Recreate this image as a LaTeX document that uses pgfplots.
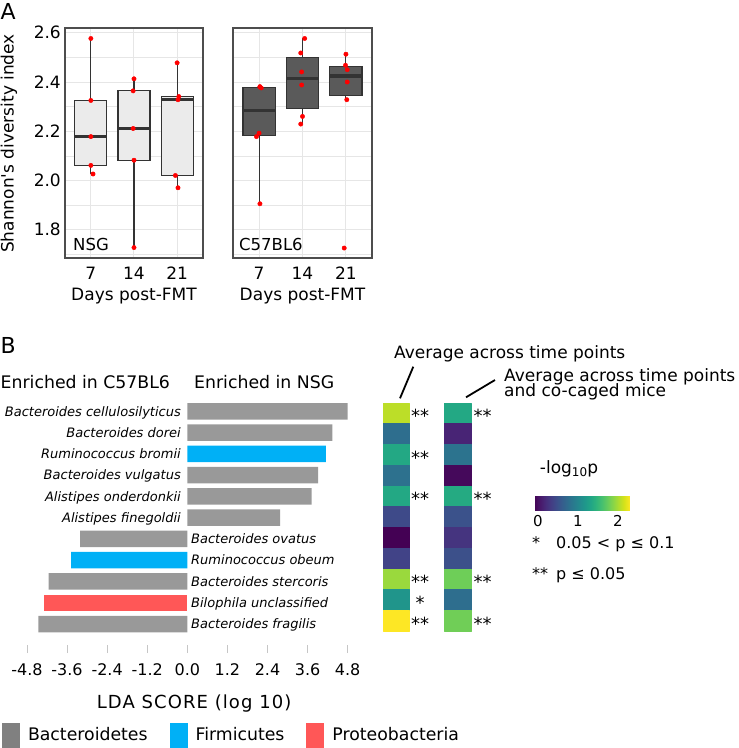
\documentclass[border=0pt]{standalone}
\usepackage{fontspec}
\setmainfont{DejaVu Sans}
\newfontfamily\ldafont{DejaVu Sans}[LetterSpace=6]
\usepackage{pgfplots}
\pgfplotsset{compat=1.18}
\usepgfplotslibrary{statistics,patchplots}
\usetikzlibrary{calc}
\newcommand\fs[1]{\fontsize{#1}{#1}\selectfont}
\definecolor{boxlight}{HTML}{EBEBEB}
\definecolor{boxdark}{HTML}{5A5A5A}
\definecolor{boxline}{HTML}{333333}
\definecolor{frame}{HTML}{4D4D4D}
\definecolor{gridc}{HTML}{E6E6E6}
\definecolor{cBac}{HTML}{999999}
\definecolor{cBacL}{HTML}{808080}
\definecolor{cFir}{HTML}{00B0F6}
\definecolor{cPro}{HTML}{FF5757}
\definecolor{dot}{HTML}{FF0000}
\pgfplotsset{
  panelA/.style={
    scale only axis, height=230pt,
    xmin=0.4, xmax=3.6, ymin=1.6845, ymax=2.6195,
    xtick={1,2,3}, xticklabels={7,14,21},
    ytick={1.8,2.0,2.2,2.4,2.6},
    minor ytick={1.7,1.9,2.1,2.3,2.5},
    xmajorgrids, ymajorgrids, yminorgrids,
    major grid style={gridc, line width=1pt},
    minor grid style={gridc, line width=0.5pt},
    major tick length=0pt, minor tick length=0pt,
    axis line style={frame, line width=1.4pt},
    tick label style={font=\fs{17}},
    xticklabel style={anchor=center, yshift=-15.3pt},
    yticklabel style={anchor=east, inner sep=0pt, xshift=-4pt},
    xlabel={Days post-FMT},
    xlabel style={font=\fs{17}, at={(axis description cs:0.5,-0.1826)}, anchor=base},
    boxplot/draw direction=y,
    boxplot/box extend=0.74,
    boxplot/whisker extend=0,
    boxplot/every median/.style={line width=3.5pt},
    boxplot/every whisker/.style={line width=1.1pt},
  },
  dots/.style={only marks, mark=*, mark size=2.2pt, color=dot, mark options={draw=none, fill=dot}},
}
\begin{document}
\begin{tikzpicture}
% ---------------- Panel A, NSG ----------------
\begin{axis}[panelA, at={(65pt,-258pt)}, anchor=south west, width=138pt,
  yticklabels={1.8,2.0,2.2,2.4,2.6},
  ylabel={Shannon\textquotesingle s diversity index},
  ylabel style={font=\fs{17}, at={(axis description cs:-0.406,0.498)}, anchor=center}]
\addplot[boxplot prepared={draw position=1, lower whisker=2.026, lower quartile=2.061, median=2.178, upper quartile=2.325, upper whisker=2.577}, draw=boxline, fill=boxlight, line width=1.1pt] coordinates {};
\addplot[boxplot prepared={draw position=2, lower whisker=1.727, lower quartile=2.082, median=2.211, upper quartile=2.364, upper whisker=2.413}, draw=boxline, fill=boxlight, line width=1.1pt] coordinates {};
\addplot[boxplot prepared={draw position=3, lower whisker=1.970, lower quartile=2.020, median=2.328, upper quartile=2.341, upper whisker=2.478}, draw=boxline, fill=boxlight, line width=1.1pt] coordinates {};
\addplot[dots] coordinates {
(1.00,2.577) (1.00,2.325) (1.00,2.178) (1.00,2.061) (1.05,2.026)
(2.00,2.413) (1.98,2.364) (1.98,2.211) (2.00,2.082) (2.00,1.727)
(3.00,2.478) (3.04,2.341) (3.02,2.328) (2.96,2.020) (3.02,1.970)};
\end{axis}
% ---------------- Panel A, C57BL6 ----------------
\begin{axis}[panelA, at={(233pt,-258pt)}, anchor=south west, width=139pt,
  yticklabels=\empty]
\addplot[boxplot prepared={draw position=1, lower whisker=1.905, lower quartile=2.181, median=2.284, upper quartile=2.377, upper whisker=2.381}, draw=boxline, fill=boxdark, line width=1.1pt] coordinates {};
\addplot[boxplot prepared={draw position=2, lower whisker=2.229, lower quartile=2.292, median=2.414, upper quartile=2.499, upper whisker=2.577}, draw=boxline, fill=boxdark, line width=1.1pt] coordinates {};
\addplot[boxplot prepared={draw position=3, lower whisker=2.328, lower quartile=2.346, median=2.425, upper quartile=2.464, upper whisker=2.513}, draw=boxline, fill=boxdark, line width=1.1pt] coordinates {};
\addplot[dots] coordinates {
(1.02,2.381) (1.05,2.376) (1.02,2.380) (1.00,2.192) (0.94,2.178) (1.02,1.905)
(2.05,2.577) (1.96,2.518) (1.98,2.441) (1.98,2.388) (2.00,2.260) (1.96,2.229)
(3.00,2.513) (2.99,2.468) (3.03,2.450) (3.03,2.400) (3.02,2.328) (2.96,1.725)};
\end{axis}
\node[font=\fs{22}, anchor=base west, inner sep=0pt] at (0.5pt,-19pt) {A};
\node[font=\fs{16.5}, anchor=base west, inner sep=0pt] at (73pt,-250pt) {NSG};
\node[font=\fs{16.5}, anchor=base west, inner sep=0pt] at (239pt,-250pt) {C57BL6};
% ---------------- Panel B, LDA bars ----------------
\node[font=\fs{22}, anchor=base west, inner sep=0pt] at (0.5pt,-353pt) {B};
\node[font=\fs{17.3}, anchor=base west, inner sep=0pt] at (0.5pt,-388.3pt) {Enriched in C57BL6};
\node[font=\fs{17.3}, anchor=base west, inner sep=0pt] at (194pt,-388.3pt) {Enriched in NSG};
\begin{axis}[
  at={(3.6pt,-653pt)}, anchor=south west,
  scale only axis, width=357.4pt, height=252.3pt,
  xmin=-5.5, xmax=5.2, ymin=-0.363, ymax=11.5,
  axis line style={draw=none},
  ytick=\empty,
  xtick={-4.8,-3.6,-2.4,-1.2,0,1.2,2.4,3.6,4.8},
  xticklabels={-4.8,-3.6,-2.4,-1.2,0.0,1.2,2.4,3.6,4.8},
  xtick pos=left, tick align=inside, major tick length=8pt,
  xtick style={draw=gray!45, line width=0.8pt},
  xticklabel style={font=\fs{16}, anchor=center, yshift=-16.2pt},
  xlabel={\ldafont LDA SCORE (log 10)},
  xlabel style={font=\fs{18}, at={(axis description cs:0.533,-0.219)}, anchor=base},
  clip=false,
  legend style={draw=none, fill=none, at={(axis description cs:-0.005,-0.2768)}, anchor=north west,
    legend columns=3, font=\fs{17.3}, inner sep=0pt,
    /tikz/every odd column/.append style={column sep=6pt},
    /tikz/every even column/.append style={column sep=20pt}},
  legend cell align=left,
]
\addplot[xbar, bar shift=0pt, bar width=16.5pt, fill=cBac, draw=none,
  legend image code/.code={\fill[cBacL] (0pt,-13pt) rectangle (18pt,12pt);}]
  coordinates {(4.80,11) (4.34,10) (3.92,8) (3.72,7) (2.78,6) (-3.21,5) (-4.15,3) (-4.46,1)};
\addlegendentry{Bacteroidetes}
\addplot[xbar, bar shift=0pt, bar width=16.5pt, fill=cFir, draw=none,
  legend image code/.code={\fill[cFir] (0pt,-13pt) rectangle (18pt,12pt);}]
  coordinates {(4.15,9) (-3.48,4)};
\addlegendentry{Firmicutes}
\addplot[xbar, bar shift=0pt, bar width=16.5pt, fill=cPro, draw=none,
  legend image code/.code={\fill[cPro] (0pt,-13pt) rectangle (18pt,12pt);}]
  coordinates {(-4.29,2)};
\addlegendentry{Proteobacteria}
\begin{scope}[every node/.style={font=\fs{13}\itshape, inner sep=0pt}]
\node[anchor=base east, xshift=-6.3pt, yshift=-4.7pt] at (axis cs:0,11) {Bacteroides cellulosilyticus};
\node[anchor=base east, xshift=-6.3pt, yshift=-4.7pt] at (axis cs:0,10) {Bacteroides dorei};
\node[anchor=base east, xshift=-6.3pt, yshift=-4.7pt] at (axis cs:0,9) {Ruminococcus bromii};
\node[anchor=base east, xshift=-6.3pt, yshift=-4.7pt] at (axis cs:0,8) {Bacteroides vulgatus};
\node[anchor=base east, xshift=-6.3pt, yshift=-4.7pt] at (axis cs:0,7) {Alistipes onderdonkii};
\node[anchor=base east, xshift=-6.3pt, yshift=-4.7pt] at (axis cs:0,6) {Alistipes finegoldii};
\node[anchor=base west, xshift=3.7pt, yshift=-4.7pt] at (axis cs:0,5) {Bacteroides ovatus};
\node[anchor=base west, xshift=3.7pt, yshift=-4.7pt] at (axis cs:0,4) {Ruminococcus obeum};
\node[anchor=base west, xshift=3.7pt, yshift=-4.7pt] at (axis cs:0,3) {Bacteroides stercoris};
\node[anchor=base west, xshift=3.7pt, yshift=-4.7pt] at (axis cs:0,2) {Bilophila unclassified};
\node[anchor=base west, xshift=3.7pt, yshift=-4.7pt] at (axis cs:0,1) {Bacteroides fragilis};
\end{scope}
\end{axis}
% ---------------- Panel B, heatmap ----------------
\begin{axis}[
  at={(383pt,-631pt)}, anchor=south west, scale only axis,
  width=87.9pt, height=228.3pt, xmin=0, xmax=3.38, ymin=0, ymax=11,
  axis line style={draw=none}, xtick=\empty, ytick=\empty, clip=false,
  colormap/viridis, point meta min=-0.1, point meta max=2.3,
  colorbar horizontal,
  colorbar style={at={($(parent axis.south west)+(151pt,129.3pt)$)}, anchor=south west,
    scale only axis, width=96pt, height=20pt,
    xtick={0,1,2}, xticklabels={0,1,2}, xticklabel pos=left,
    major tick length=0pt, axis line style={draw=none}, ytick=\empty,
    xticklabel style={font=\fs{15}, anchor=center, yshift=-10.3pt}},
]
\addplot[patch, patch type=rectangle, shader=flat, point meta=explicit]
table[meta=c] {
x y c
0 10 2.06
1 10 2.06
1 11 2.06
0 11 2.06
0 9 0.76
1 9 0.76
1 10 0.76
0 10 0.76
0 8 1.34
1 8 1.34
1 9 1.34
0 9 1.34
0 7 0.79
1 7 0.79
1 8 0.79
0 8 0.79
0 6 1.34
1 6 1.34
1 7 1.34
0 7 1.34
0 5 0.43
1 5 0.43
1 6 0.43
0 6 0.43
0 4 -0.1
1 4 -0.1
1 5 -0.1
0 5 -0.1
0 3 0.38
1 3 0.38
1 4 0.38
0 4 0.38
0 2 1.94
1 2 1.94
1 3 1.94
0 3 1.94
0 1 1.15
1 1 1.15
1 2 1.15
0 2 1.15
0 0 2.3
1 0 2.3
1 1 2.3
0 1 2.3
2.35 10 1.34
3.38 10 1.34
3.38 11 1.34
2.35 11 1.34
2.35 9 0.14
3.38 9 0.14
3.38 10 0.14
2.35 10 0.14
2.35 8 0.81
3.38 8 0.81
3.38 9 0.81
2.35 9 0.81
2.35 7 -0.05
3.38 7 -0.05
3.38 8 -0.05
2.35 8 -0.05
2.35 6 1.36
3.38 6 1.36
3.38 7 1.36
2.35 7 1.36
2.35 5 0.50
3.38 5 0.50
3.38 6 0.50
2.35 6 0.50
2.35 4 0.26
3.38 4 0.26
3.38 5 0.26
2.35 5 0.26
2.35 3 0.48
3.38 3 0.48
3.38 4 0.48
2.35 4 0.48
2.35 2 1.77
3.38 2 1.77
3.38 3 1.77
2.35 3 1.77
2.35 1 0.76
3.38 1 0.76
3.38 2 0.76
2.35 2 0.76
2.35 0 1.78
3.38 0 1.78
3.38 1 1.78
2.35 1 1.78
};
\begin{scope}[every node/.style={font=\fs{18}, inner sep=0pt, anchor=base, yshift=-9.8pt}]
\node at (axis cs:1.423,10.5) {**};
\node at (axis cs:1.423,8.5) {**};
\node at (axis cs:1.423,6.5) {**};
\node at (axis cs:1.423,2.5) {**};
\node at (axis cs:1.423,1.5) {*};
\node at (axis cs:1.423,0.5) {**};
\node at (axis cs:3.827,10.5) {**};
\node at (axis cs:3.827,6.5) {**};
\node at (axis cs:3.827,2.5) {**};
\node at (axis cs:3.827,0.5) {**};
\end{scope}
\end{axis}
\draw[line width=1.8pt] (413.3pt,-366.7pt) -- (400pt,-398.3pt);
\draw[line width=1.8pt] (495pt,-380pt) -- (466pt,-397.3pt);
\node[font=\fs{17}, anchor=base west, inner sep=0pt] at (394pt,-358.3pt) {Average across time points};
\node[font=\fs{17}, anchor=base west, inner sep=0pt] at (504pt,-381pt) {Average across time points};
\node[font=\fs{17}, anchor=base west, inner sep=0pt] at (504pt,-396.7pt) {and co-caged mice};
\node[font=\fs{17}, anchor=base, inner sep=0pt] at (569pt,-473pt) {-log\raisebox{-0.35ex}{\fs{12}10}p};
\node[font=\fs{16}, anchor=base west, inner sep=0pt] at (532pt,-548pt) {*};
\node[font=\fs{16}, anchor=base west, inner sep=0pt] at (556pt,-548pt) {0.05 < p ≤ 0.1};
\node[font=\fs{16}, anchor=base west, inner sep=0pt] at (532pt,-579pt) {**};
\node[font=\fs{16}, anchor=base west, inner sep=0pt] at (556pt,-579pt) {p ≤ 0.05};
\pgfresetboundingbox
\useasboundingbox (0pt,0pt) rectangle (739pt,-748pt);
\end{tikzpicture}
\end{document}
